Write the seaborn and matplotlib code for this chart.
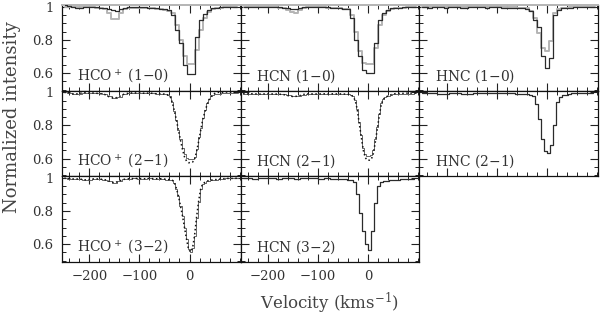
import seaborn as sns
import matplotlib.pyplot as plt
import matplotlib.ticker as mtick

# channel velocities (km/s)
v_lo = [-249, -241, -233, -225, -217, -209, -201, -193, -185, -177, -169, -161,
        -153, -145, -137, -129, -121, -113, -105, -97, -89, -81, -73, -65, -57,
        -49, -41, -33, -25, -17, -9, -1, 7, 15, 23, 31, 39, 47, 55, 63, 71, 79, 87, 95]
v_hi = [-250, -240, -230, -220, -210, -200, -190, -180, -170, -160, -150, -140,
        -130, -120, -110, -100, -90, -80, -70,
        -62, -58, -54, -50, -46, -42, -38, -34, -30, -26, -22, -18, -14, -10, -6,
        -2, 2, 6, 10, 14, 18, 22, 26, 30, 34, 38, 42, 46, 50, 54, 58,
        66, 76, 86, 96]
v_mid = [-250, -238, -226, -214, -202, -190, -178, -166, -154, -142, -130, -118,
         -106, -94, -82, -70, -58,
         -51, -45, -39, -33, -27, -21, -15, -9, -3, 3, 9, 15, 21, 27, 33, 39, 45, 51, 57,
         68, 80, 92]

# (1-0) spectra, dark and light overlays
hco10_dark = [1.008, 1.005, 0.998, 0.995, 0.994, 0.996, 0.997, 0.998, 0.997, 0.995, 0.99,
              0.985, 0.978, 0.976, 0.985, 0.994, 0.998, 1.0, 0.999, 0.998, 0.997, 0.995,
              0.993, 0.99, 0.988, 0.986, 0.982, 0.95, 0.86, 0.78, 0.65, 0.594, 0.594,
              0.82, 0.92, 0.955, 0.98, 0.99, 0.995, 0.997, 0.998, 1.0, 1.0, 1.0]
hco10_gray = [1.0, 1.0, 0.998, 0.997, 0.997, 0.998, 0.998, 0.997, 0.995, 0.99, 0.985,
              0.965, 0.925, 0.925, 0.96, 0.985, 0.993, 0.995, 0.995, 0.995, 0.993, 0.99,
              0.99, 0.988, 0.985, 0.98, 0.975, 0.96, 0.89, 0.80, 0.70, 0.655, 0.655,
              0.74, 0.86, 0.93, 0.97, 0.985, 0.99, 0.995, 0.997, 0.998, 1.0, 1.0]
hcn10_dark = [1.0, 1.0, 0.999, 0.998, 0.998, 0.999, 1.0, 0.999, 0.998, 0.997, 0.995,
              0.992, 0.988, 0.986, 0.992, 0.997, 0.999, 1.0, 1.0, 0.999, 0.998, 0.997,
              0.995, 0.993, 0.99, 0.988, 0.985, 0.93, 0.80, 0.70, 0.62, 0.60, 0.60,
              0.78, 0.92, 0.96, 0.98, 0.99, 0.993, 0.995, 0.997, 0.998, 0.998, 0.999]
hcn10_gray = [1.0, 1.0, 1.0, 0.999, 0.999, 1.0, 1.0, 0.999, 0.998, 0.995, 0.99,
              0.98, 0.968, 0.965, 0.98, 0.993, 0.997, 0.998, 0.998, 0.997, 0.996, 0.995,
              0.994, 0.992, 0.99, 0.988, 0.985, 0.95, 0.85, 0.73, 0.66, 0.655, 0.655,
              0.75, 0.89, 0.95, 0.975, 0.985, 0.99, 0.993, 0.995, 0.997, 0.998, 0.999]
hnc10_dark = [0.998, 0.997, 0.995, 0.996, 0.998, 0.997, 0.995, 0.997, 0.998, 0.996, 0.994,
              0.995, 0.997, 0.996, 0.998, 0.997, 0.995, 0.997, 0.998, 0.996, 0.995, 0.994,
              0.993, 0.992, 0.99, 0.99, 0.988, 0.975, 0.92, 0.88, 0.70, 0.63, 0.69,
              0.95, 0.98, 0.99, 0.993, 0.995, 0.996, 0.997, 0.998, 0.999, 1.0, 1.0]
hnc10_gray = [1.0, 1.0, 0.999, 0.998, 0.999, 1.0, 0.999, 0.998, 0.999, 1.0, 0.999,
              0.998, 0.998, 0.999, 1.0, 0.999, 0.998, 0.999, 1.0, 0.999, 0.998, 0.997,
              0.997, 0.996, 0.995, 0.993, 0.99, 0.975, 0.93, 0.84, 0.75, 0.735, 0.79,
              0.96, 0.985, 0.99, 0.995, 0.997, 0.998, 1.0, 1.0, 1.0, 1.0, 1.0]

# (2-1) spectra: solid and dotted
hco21_solid = [1.0, 0.998, 0.99, 0.992, 0.997, 0.996, 0.995, 0.993, 0.99, 0.975, 0.965,
               0.972, 0.99, 0.995, 0.997, 0.996, 0.995, 0.995, 0.993,
               0.99, 0.99, 0.99, 0.99, 0.988, 0.985, 0.975, 0.94, 0.89, 0.835, 0.775,
               0.72, 0.665, 0.625, 0.605, 0.60, 0.60, 0.60, 0.61, 0.655, 0.73, 0.785,
               0.845, 0.895, 0.935, 0.96, 0.975, 0.983, 0.988, 0.99, 0.992,
               0.993, 0.995, 0.995, 0.995]
hco21_dot = [1.0, 0.997, 0.988, 0.993, 0.998, 0.995, 0.996, 0.992, 0.988, 0.972, 0.963,
             0.975, 0.99, 0.996, 0.996, 0.997, 0.994, 0.996, 0.992,
             0.99, 0.991, 0.989, 0.99, 0.987, 0.983, 0.97, 0.935, 0.885, 0.83, 0.77,
             0.71, 0.655, 0.61, 0.585, 0.575, 0.575, 0.578, 0.595, 0.64, 0.70, 0.765,
             0.83, 0.875, 0.915, 0.95, 0.97, 0.985, 0.993, 0.998, 1.0,
             1.0, 1.002, 1.0, 1.0]
hcn21_solid = [0.992, 0.99, 0.991, 0.99, 0.989, 0.99, 0.991, 0.99, 0.988, 0.982, 0.975,
               0.978, 0.986, 0.99, 0.99, 0.991, 0.99, 0.99, 0.99,
               0.99, 0.99, 0.99, 0.99, 0.99, 0.99, 0.988, 0.985, 0.975, 0.955, 0.90,
               0.82, 0.74, 0.665, 0.625, 0.615, 0.615, 0.62, 0.65, 0.72, 0.79, 0.87,
               0.935, 0.96, 0.97, 0.975, 0.98, 0.985, 0.987, 0.99, 0.99,
               0.99, 0.992, 0.992, 0.993]
hcn21_dot = [0.993, 0.99, 0.992, 0.989, 0.99, 0.991, 0.99, 0.989, 0.987, 0.98, 0.974,
             0.977, 0.987, 0.991, 0.99, 0.99, 0.991, 0.99, 0.991,
             0.99, 0.991, 0.99, 0.99, 0.989, 0.989, 0.987, 0.983, 0.972, 0.95, 0.895,
             0.81, 0.73, 0.65, 0.605, 0.59, 0.59, 0.595, 0.63, 0.70, 0.78, 0.86,
             0.93, 0.958, 0.97, 0.976, 0.982, 0.986, 0.99, 0.992, 0.993,
             0.993, 0.995, 0.995, 0.996]
hnc21 = [0.997, 0.993, 0.995, 0.99, 0.992, 0.995, 0.993, 0.99, 0.99, 0.993, 0.997,
         0.995, 0.998, 0.997, 0.995, 0.993, 0.99,
         0.99, 0.99, 0.988, 0.985, 0.978, 0.93, 0.84, 0.72, 0.645, 0.635, 0.68, 0.80,
         0.94, 0.97, 0.983, 0.986, 0.99, 0.993, 0.995,
         0.995, 0.997, 0.995]

# (3-2) spectra
hco32 = [0.998, 0.996, 0.993, 0.994, 0.988, 0.99, 0.995, 0.993, 0.99, 0.98, 0.97,
         0.982, 0.992, 0.995, 0.997, 0.996, 0.995, 0.997, 0.995,
         0.995, 0.995, 0.993, 0.993, 0.99, 0.99, 0.988, 0.985, 0.97, 0.935, 0.89,
         0.83, 0.77, 0.70, 0.63, 0.57, 0.553, 0.575, 0.65, 0.76, 0.855, 0.93,
         0.963, 0.972, 0.98, 0.983, 0.985, 0.988, 0.99, 0.99, 0.992,
         0.995, 0.997, 0.997, 0.998]
hcn32 = [0.997, 0.998, 0.996, 0.997, 0.998, 0.997, 0.996, 0.998, 0.997, 0.996, 0.997,
         0.998, 0.997, 0.996, 0.997, 0.995, 0.995,
         0.995, 0.993, 0.99, 0.985, 0.975, 0.90, 0.79, 0.68, 0.60, 0.565, 0.68, 0.85,
         0.95, 0.975, 0.98, 0.983, 0.985, 0.988, 0.99,
         0.993, 0.995, 0.995]

DARK = "#2b2b2b"
LIGHT = "#b4b4b4"

# (row, col, label, [(v, flux, style)])
panels = [
    (0, 0, r"HCO$^+$ (1$-$0)", [(v_lo, hco10_dark, "dark"), (v_lo, hco10_gray, "light")]),
    (0, 1, r"HCN (1$-$0)", [(v_lo, hcn10_dark, "dark"), (v_lo, hcn10_gray, "light")]),
    (0, 2, r"HNC (1$-$0)", [(v_lo, hnc10_dark, "dark"), (v_lo, hnc10_gray, "light")]),
    (1, 0, r"HCO$^+$ (2$-$1)", [(v_hi, hco21_solid, "thin"), (v_hi, hco21_dot, "dot")]),
    (1, 1, r"HCN (2$-$1)", [(v_hi, hcn21_solid, "thin"), (v_hi, hcn21_dot, "dot")]),
    (1, 2, r"HNC (2$-$1)", [(v_mid, hnc21, "dark")]),
    (2, 0, r"HCO$^+$ (3$-$2)", [(v_hi, hco32, "thin"), (v_hi, hco32, "dot")]),
    (2, 1, r"HCN (3$-$2)", [(v_mid, hcn32, "dark")]),
]

styles = {
    "dark": dict(color=DARK, lw=0.9, drawstyle="steps-mid", zorder=3),
    "light": dict(color=LIGHT, lw=1.4, drawstyle="steps-mid", zorder=2),
    "thin": dict(color="#666666", lw=0.7, drawstyle="steps-mid", zorder=3),
    "dot": dict(color="#111111", lw=1.1, linestyle=":", zorder=4),
}

sns.set_theme(style="ticks")
plt.rcParams["font.family"] = ["DejaVu Serif"]
plt.rcParams["mathtext.fontset"] = "dejavuserif"

fig = plt.figure(figsize=(6.0, 3.17), dpi=100)
gs = fig.add_gridspec(3, 3, left=0.103, right=0.997, top=0.984, bottom=0.174,
                      wspace=0, hspace=0)

for row, col, label, lines in panels:
    ax = fig.add_subplot(gs[row, col])
    for v, flux, st in lines:
        sns.lineplot(x=v, y=flux, ax=ax, estimator=None, sort=False, **styles[st])

    ax.set_xlim(-255, 102)
    ax.set_ylim(0.493, 1.01)
    ax.xaxis.set_major_locator(mtick.FixedLocator([-200, -100, 0]))
    ax.xaxis.set_minor_locator(mtick.MultipleLocator(20))
    ax.yaxis.set_major_locator(mtick.FixedLocator([0.6, 0.8, 1.0]))
    ax.yaxis.set_minor_locator(mtick.MultipleLocator(0.05))
    ax.yaxis.set_major_formatter(mtick.FuncFormatter(lambda y, p: f"{y:g}"))
    ax.tick_params(which="both", direction="in", top=True, right=True,
                   color="#222222", labelsize=9.5, labelcolor="#333333", pad=6)
    ax.tick_params(which="major", length=5.5, width=0.8)
    ax.tick_params(which="minor", length=3, width=0.7)
    for sp in ax.spines.values():
        sp.set_linewidth(0.9)
        sp.set_color("#111111")
    if row == 0:
        ax.spines["top"].set_color(LIGHT)
        ax.spines["top"].set_linewidth(1.4)

    if col != 0:
        ax.tick_params(labelleft=False)
    if row != 2:
        ax.tick_params(labelbottom=False)
    ax.set_xlabel("")
    ax.set_ylabel("")

    ax.text(0.085, 0.12, label, transform=ax.transAxes, fontsize=10,
            color="#333333", ha="left", va="baseline")

fig.text(0.55, 0.044, r"Velocity (kms$^{-1}$)", ha="center", va="center",
         fontsize=12, color="#444444")
fig.text(0.02, 0.63, "Normalized intensity", ha="center", va="center",
         rotation=90, fontsize=13, color="#444444")

plt.savefig("out.png", dpi=100)
